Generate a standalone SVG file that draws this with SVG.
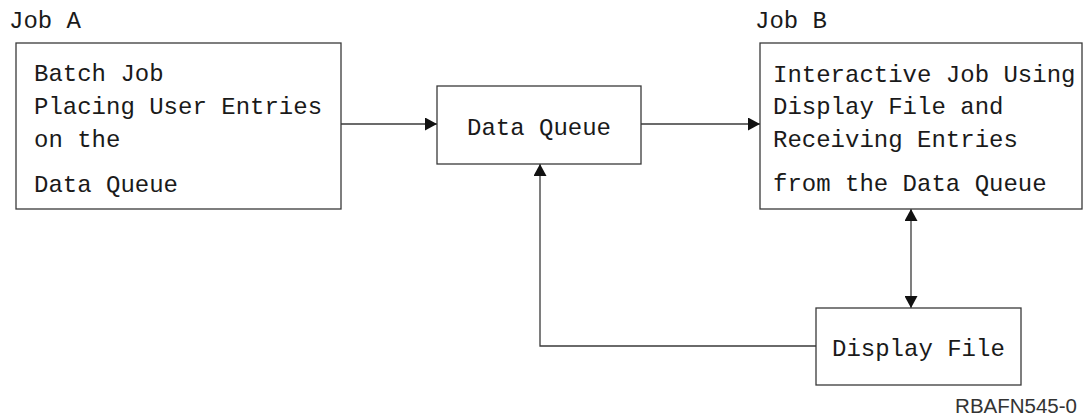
<svg xmlns="http://www.w3.org/2000/svg" width="1083" height="417" viewBox="0 0 1083 417">
  <style>
    .box { fill: #ffffff; stroke: #3a3a3a; stroke-width: 1.3; }
    .t { font-family: "Liberation Mono", "DejaVu Sans Mono", monospace; font-size: 24px; fill: #1a1a1a; }
    .conn { fill: none; stroke: #3a3a3a; stroke-width: 1.3; }
    .id { font-family: "Liberation Sans", Arial, sans-serif; font-size: 20.5px; fill: #333333; }
  </style>
  <defs>
    <marker id="arr" markerUnits="userSpaceOnUse" markerWidth="12" markerHeight="13" refX="12" refY="6.5" orient="auto-start-reverse" viewBox="0 0 12 13">
      <path d="M0,0 L12,6.5 L0,13 Z" fill="#111111"/>
    </marker>
  </defs>
  <rect width="1083" height="417" fill="#ffffff"/>

  <g id="connectors">
    <line class="conn" x1="341" y1="124" x2="437" y2="124" marker-end="url(#arr)"/>
    <line class="conn" x1="641" y1="124" x2="760" y2="124" marker-end="url(#arr)"/>
    <polyline class="conn" points="816,346 540,346 540,164" marker-end="url(#arr)"/>
    <line class="conn" x1="911" y1="209" x2="911" y2="308" marker-start="url(#arr)" marker-end="url(#arr)"/>
  </g>

  <g id="jobA">
    <text class="t" x="9" y="28">Job A</text>
    <rect class="box" x="16" y="43" width="325" height="166"/>
    <text class="t" x="34" y="81">Batch Job</text>
    <text class="t" x="34" y="114">Placing User Entries</text>
    <text class="t" x="34" y="147">on the</text>
    <text class="t" x="34" y="192">Data Queue</text>
  </g>

  <g id="dataQueue">
    <rect class="box" x="437" y="86" width="204" height="78"/>
    <text class="t" x="467" y="135">Data Queue</text>
  </g>

  <g id="jobB">
    <text class="t" x="755" y="28">Job B</text>
    <rect class="box" x="760" y="43" width="322" height="166"/>
    <text class="t" x="773" y="82">Interactive Job Using</text>
    <text class="t" x="773" y="114">Display File and</text>
    <text class="t" x="773" y="147">Receiving Entries</text>
    <text class="t" x="773" y="191">from the Data Queue</text>
  </g>

  <g id="displayFile">
    <rect class="box" x="816" y="308" width="205" height="77"/>
    <text class="t" x="832" y="356">Display File</text>
  </g>

  <text class="id" x="1077" y="413" text-anchor="end">RBAFN545-0</text>
</svg>
